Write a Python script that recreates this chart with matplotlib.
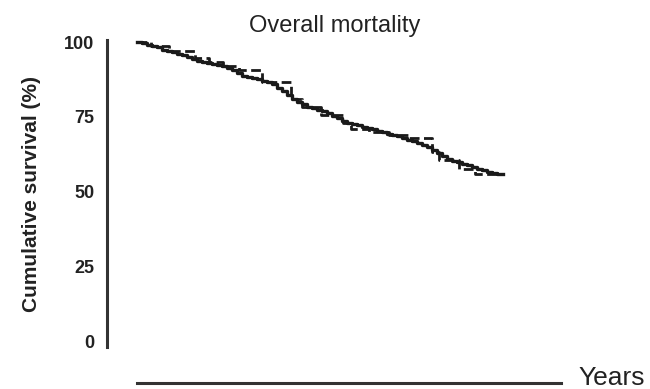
import matplotlib
matplotlib.use('Agg')
import matplotlib.pyplot as plt

plt.rcParams['font.family'] = ['Liberation Sans', 'DejaVu Sans']

# Kaplan-Meier style survival curves (time in years, survival in %)
solid_t = [0, 0.12, 0.25, 0.38, 0.5, 0.62, 0.75, 0.88, 1.0, 1.12, 1.25, 1.38,
           1.5, 1.62, 1.75, 1.88, 2.0, 2.12, 2.25, 2.38, 2.5, 2.62, 2.75,
           2.88, 3.0, 3.12, 3.25, 3.38, 3.5, 3.62, 3.75, 3.88, 4.0, 4.12,
           4.25, 4.38, 4.5, 4.62, 4.75, 4.88, 5.0, 5.12, 5.25, 5.38, 5.5,
           5.62, 5.75, 5.88, 6.0, 6.12, 6.25, 6.38, 6.5, 6.62, 6.75, 6.88,
           7.0, 7.12, 7.25, 7.38, 7.5, 7.62, 7.75, 7.88, 8.0, 8.12, 8.25,
           8.38, 8.5, 8.62, 8.75, 8.88, 9.0, 9.15]
solid_s = [100, 99.6, 99.1, 98.7, 98.2, 97.5, 97.0, 96.6, 96.0, 95.6, 95.0,
           94.3, 93.6, 93.3, 93.0, 92.6, 92.3, 91.9, 91.4, 90.5, 89.6, 88.8,
           88.4, 88.0, 87.6, 87.1, 86.6, 85.9, 84.8, 83.6, 82.4, 81.0, 80.0,
           79.2, 78.4, 77.8, 77.3, 76.9, 76.4, 75.4, 74.5, 73.6, 73.0, 72.6,
           72.2, 71.7, 71.2, 70.8, 70.3, 69.8, 69.4, 69.0, 68.5, 67.9, 67.3,
           66.8, 66.2, 65.6, 64.9, 63.9, 62.9, 61.9, 61.0, 60.3, 59.8, 59.3,
           58.8, 58.3, 57.7, 57.1, 56.6, 56.1, 55.8, 55.8]

dashed_t = [0, 0.35, 0.8, 1.45, 1.8, 2.15, 2.55, 3.12, 3.85, 4.12, 4.6, 5.15,
            5.35, 5.8, 6.3, 6.8, 7.38, 7.55, 8.05, 8.45, 9.15]
dashed_s = [100, 98.6, 97.0, 94.8, 93.4, 92.0, 90.6, 86.6, 81.0, 78.2, 75.6,
            73.0, 71.0, 70.0, 69.0, 68.0, 63.4, 60.6, 57.4, 55.8, 55.8]

y_ticks = [0, 25, 50, 75, 100]

fig = plt.figure(figsize=(6.5, 3.89), dpi=100)
ax = fig.add_axes([107 / 650, 42 / 389, 455 / 650, 307 / 389])

ink = '#1a1a1a'
ax.plot(solid_t, solid_s, drawstyle='steps-post', color=ink, lw=2.4)
ax.plot(dashed_t, dashed_s, drawstyle='steps-post', color=ink, lw=2.0,
        linestyle=(0, (3.5, 1.6)))

ax.set_xlim(-0.75, 10.625)
ax.set_ylim(-2, 100.7)

for side in ('top', 'right'):
    ax.spines[side].set_visible(False)
ax.spines['left'].set_linewidth(2.2)
ax.spines['left'].set_color('#333333')
ax.spines['bottom'].set_linewidth(2.2)
ax.spines['bottom'].set_color('#333333')
ax.spines['bottom'].set_position(('outward', 26))
ax.spines['bottom'].set_bounds(0.0, 10.6)

ax.set_xticks([])
ax.set_yticks(y_ticks)
ax.set_yticklabels([str(v) for v in y_ticks], fontweight='bold', color='#222222')
ax.tick_params(axis='y', length=0, pad=9, labelsize=13)

ax.set_ylabel('Cumulative survival (%)', fontsize=15, fontweight='bold',
              color='#222222', labelpad=17)
ax.set_title('Overall mortality', fontsize=17, color='#222222', pad=6)

fig.text(578 / 650, 1 - 378 / 389, 'Years', fontsize=19, color='#222222',
         ha='left', va='center')

fig.savefig('out.png', dpi=100)
